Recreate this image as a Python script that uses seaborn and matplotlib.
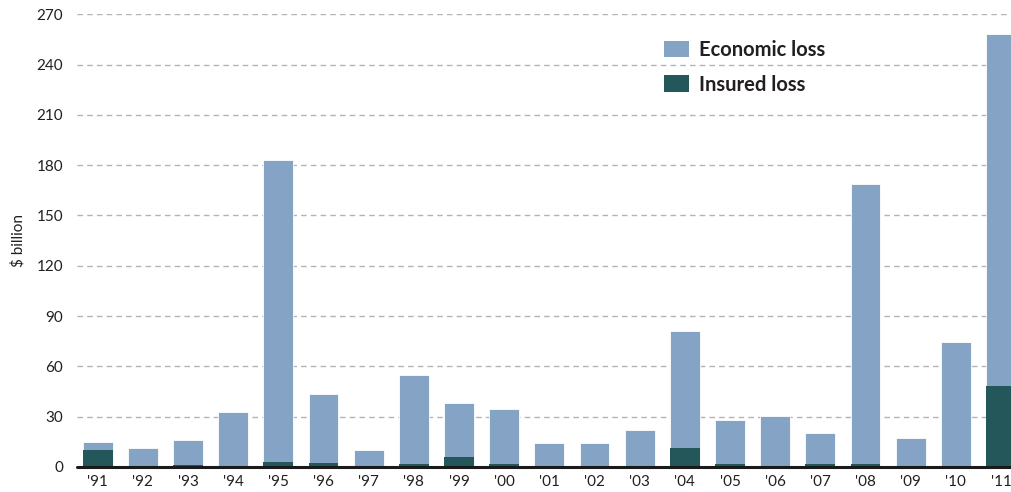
import matplotlib
matplotlib.use("Agg")
import matplotlib.pyplot as plt
import seaborn as sns
import pandas as pd
from matplotlib.patches import Patch

years = ["'91", "'92", "'93", "'94", "'95", "'96", "'97", "'98", "'99", "'00", "'01",
         "'02", "'03", "'04", "'05", "'06", "'07", "'08", "'09", "'10", "'11"]
economic_loss = [15, 11, 16, 33, 183, 43.5, 10, 55, 38, 34.5, 14.5,
                 14.5, 22, 81, 28, 30.5, 20.5, 169, 17.5, 74.5, 258]
insured_loss = [10, 0, 1, 0, 3, 2.5, 0, 2, 6, 1.5, 0.5,
                0, 0, 11, 1.5, 0, 2, 1.5, 0, 0, 48.5]
y_ticks = [0, 30, 60, 90, 120, 150, 180, 210, 240, 270]

df = pd.DataFrame({"year": years, "Economic loss": economic_loss, "Insured loss": insured_loss})

ECON = "#84a3c5"
INS = "#23575a"

sns.set_style("white")
plt.rcParams["font.family"] = ["Lato", "DejaVu Sans"]

fig = plt.figure(figsize=(10.11, 4.92), dpi=100)
ax = fig.add_axes([0.076, 0.051, 0.924, 0.92])

sns.barplot(data=df, x="year", y="Economic loss", color=ECON, width=0.66,
            saturation=1, edgecolor="white", linewidth=0.6, ax=ax, zorder=2)
sns.barplot(data=df, x="year", y="Insured loss", color=INS, width=0.66,
            saturation=1, edgecolor="none", linewidth=0, ax=ax, zorder=3)

ax.set_ylim(0, 270)
ax.set_xlim(-0.46, 20.22)
ax.set_yticks(y_ticks)
ax.set_yticklabels([str(t) for t in y_ticks])
for t in y_ticks[1:]:
    ax.axhline(t, color="#b3b3b3", linestyle=(0, (4, 3)), linewidth=1.0, zorder=1)
ax.axhline(0, color="#1a1a1a", linewidth=2.2, zorder=4, clip_on=False)

for side in ["top", "right", "left", "bottom"]:
    ax.spines[side].set_visible(False)

ax.tick_params(axis="both", length=0, labelsize=11, colors="#231f20")
ax.tick_params(axis="y", pad=10)
ax.tick_params(axis="x", pad=6)
ax.set_xlabel("")
ax.set_ylabel("$ billion", fontsize=11, color="#231f20", labelpad=8)

handles = [Patch(facecolor=ECON, edgecolor="none"), Patch(facecolor=INS, edgecolor="none")]
leg = ax.legend(handles, ["Economic loss", "Insured loss"], loc="upper left",
                bbox_to_anchor=(0.609, 0.983), frameon=False, handlelength=1.25,
                handleheight=0.9, handletextpad=0.5, labelspacing=0.72,
                prop={"weight": "bold", "size": 14.5})
for txt in leg.get_texts():
    txt.set_color("#231f20")

fig.savefig("out.png", dpi=100)
